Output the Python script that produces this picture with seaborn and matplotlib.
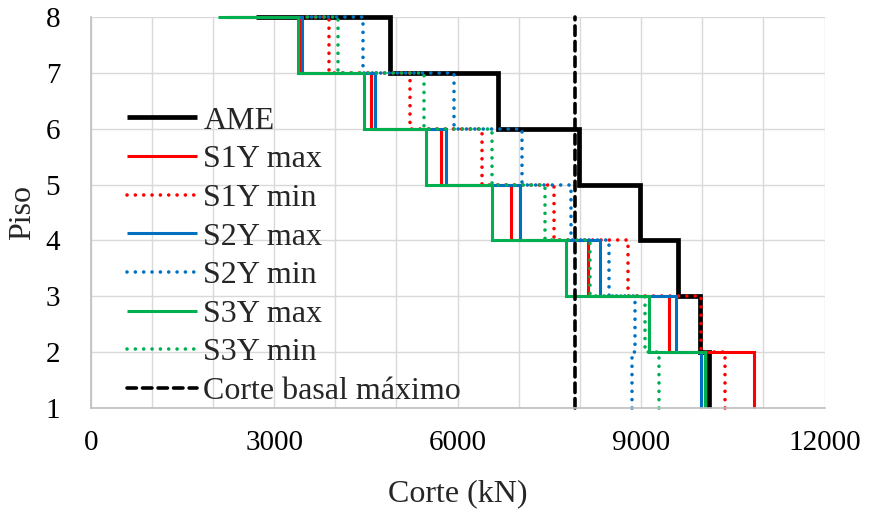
import numpy as np
import pandas as pd
import matplotlib
matplotlib.use("Agg")
import matplotlib.pyplot as plt
import seaborn as sns

# Story shear per floor (floor 1..7 vertical segments, last value = top horizontal end)
floors = [1, 2, 3, 4, 5, 6, 7, 8]
ame = [10108, 9956, 9601, 8975, 7984, 6660, 4891, 2700]
s1y_max = [10843, 9455, 8131, 6879, 5724, 4580, 3420, 2200]
s1y_min = [10381, 9977, 8785, 7575, 6394, 5229, 3905, 3480]
s2y_max = [9977, 9564, 8333, 7026, 5817, 4645, 3458, 2250]
s2y_min = [8850, 8905, 8474, 7859, 7052, 5936, 4455, 3500]
s3y_max = [10042, 9123, 7767, 6562, 5484, 4466, 3392, 2085]
s3y_min = [9291, 9057, 8170, 7423, 6562, 5458, 4041, 3490]
corte_basal = 7925

labels = ["AME", "S1Y max", "S1Y min", "S2Y max", "S2Y min", "S3Y max", "S3Y min"]
series = [ame, s1y_max, s1y_min, s2y_max, s2y_min, s3y_max, s3y_min]
x_ticks = [0, 3000, 6000, 9000, 12000]

sns.set_theme(style="white")
plt.rcParams['font.family'] = ['Liberation Serif', 'DejaVu Serif']

RED = "#ff0000"
BLUE = "#0070c0"
GREEN = "#00b050"
DOT = (0, (0.01, 2.3))
styles = {
    "AME": dict(color="black", lw=3.4, ls="-"),
    "S1Y max": dict(color=RED, lw=2.2, ls="-"),
    "S1Y min": dict(color=RED, lw=2.6, ls=DOT),
    "S2Y max": dict(color=BLUE, lw=2.2, ls="-"),
    "S2Y min": dict(color=BLUE, lw=2.6, ls=DOT),
    "S3Y max": dict(color=GREEN, lw=2.2, ls="-"),
    "S3Y min": dict(color=GREEN, lw=2.6, ls=DOT),
}

def step_coords(vals):
    xs, ys = [], []
    for i in range(len(floors) - 1):
        xs += [vals[i], vals[i]]
        ys += [floors[i], floors[i + 1]]
    xs.append(vals[-1])
    ys.append(floors[-1])
    return xs, ys

fig = plt.figure(figsize=(8.7, 5.13), dpi=100)
ax = fig.add_axes([90.7 / 870, 1 - 407.7 / 513, (824.5 - 90.7) / 870, (407.7 - 17.3) / 513])

for lab, vals in zip(labels, series):
    xs, ys = step_coords(vals)
    df = pd.DataFrame({"x": xs, "y": ys})
    st = styles[lab]
    sns.lineplot(data=df, x="x", y="y", sort=False, estimator=None, ax=ax,
                 color=st["color"], linewidth=st["lw"], linestyle=st["ls"],
                 label=lab, clip_on=False, dash_capstyle="round",
                 solid_capstyle="butt", solid_joinstyle="miter")

df_cb = pd.DataFrame({"x": [corte_basal, corte_basal], "y": [floors[0], floors[-1]]})
sns.lineplot(data=df_cb, x="x", y="y", sort=False, estimator=None, ax=ax,
             color="black", linewidth=2.6, linestyle=(0, (2.6, 1.7)),
             dash_capstyle="round", label="Corte basal máximo", clip_on=False)

ax.set_xlim(0, 12000)
ax.set_ylim(1, 8)
ax.set_xticks(x_ticks)
ax.set_xticks(np.arange(0, 12001, 1000), minor=True)
ax.set_yticks(floors)
ax.grid(True, which="both", color="#d9d9d9", linewidth=1.0)
ax.set_axisbelow(True)
for s in ["top", "right"]:
    ax.spines[s].set_visible(False)
for s in ["left", "bottom"]:
    ax.spines[s].set_color("#bfbfbf")
    ax.spines[s].set_linewidth(1.2)
ax.tick_params(axis="both", which="both", length=0, labelsize=21, colors="black")
ax.tick_params(axis="x", pad=16)
ax.tick_params(axis="y", pad=22)

ax.set_xlabel("Corte (kN)", fontsize=23, labelpad=17)
ax.set_ylabel("Piso", fontsize=23, labelpad=6)

leg = ax.legend(loc="upper left", bbox_to_anchor=(0.049, 0.772), frameon=False,
                fontsize=23, handlelength=2.2, handletextpad=0.2,
                labelspacing=0.29, borderpad=0, borderaxespad=0)

fig.savefig("out.png", dpi=100)
